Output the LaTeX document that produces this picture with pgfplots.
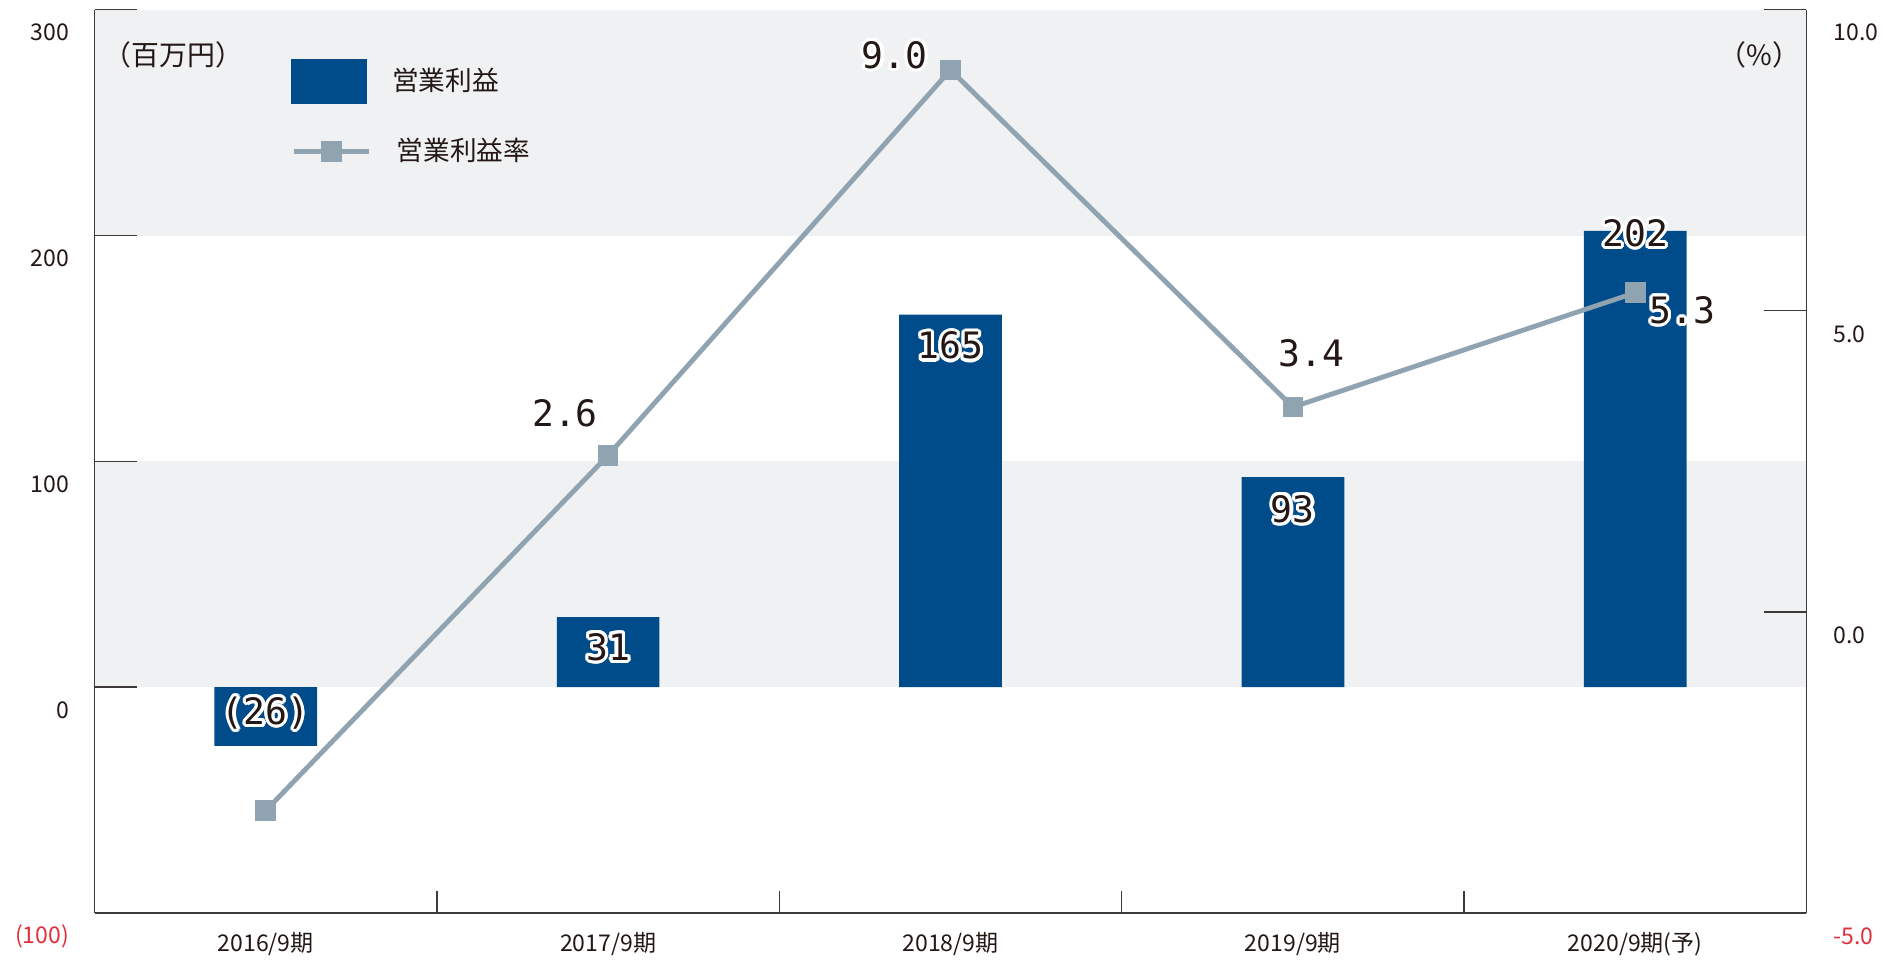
\documentclass[border=0pt]{standalone}
\usepackage{pgfplots}
\pgfplotsset{compat=1.18}
\usepackage{fontspec}
\setmainfont{Noto Sans CJK JP}
\newfontfamily\numfont{DejaVu Sans Mono}
\usepackage{contour}
\contourlength{1.3pt}
\contournumber{16}

\definecolor{barblue}{HTML}{004C8A}
\definecolor{linegray}{HTML}{8FA3B1}
\definecolor{bandgray}{HTML}{F0F1F3}
\definecolor{axisgray}{HTML}{3E3A39}
\definecolor{txt}{HTML}{231815}
\definecolor{negred}{HTML}{E0303C}

% shared frame for both axes
\pgfplotsset{
  base/.style={
    scale only axis, width=706pt, height=372.5pt,
    xmin=-0.5, xmax=4.5,
    tick align=inside, major tick length=17.5pt,
    tick style={axisgray, line width=0.6pt},
    axis line style={-, axisgray, line width=0.6pt},
    tick label style={font=\fontsize{9.5}{11}\selectfont, text=txt},
    clip=false,
  },
  leg/.style={legend style={at={(rel axis cs:0.1147,#1)}, anchor=west, draw=none, fill=none,
    inner sep=0pt, column sep=8.5pt, font=\fontsize{11}{13}\selectfont, text=txt}},
}
\tikzset{lab/.style={font=\numfont\fontsize{15}{15}\selectfont, text=txt}}

\begin{document}
\begin{tikzpicture}
% left axis: operating profit (million yen)
\begin{axis}[base,
  set layers,
  axis x line*=bottom, axis y line*=left,
  ymin=-100, ymax=300,
  ytick={-100,0,100,200,300},
  yticklabels={\textcolor{negred}{(100)},0,100,200,300},
  yticklabel style={anchor=east, xshift=-7pt, yshift=-9.5pt},
  xtick={0,1,2,3,4},
  xticklabels={2016/9期,2017/9期,2018/9期,2019/9期,2020/9期(予)},
  xticklabel style={yshift=-4.5pt},
  major x tick style={draw=none},
  minor xtick={0.5,1.5,2.5,3.5},
  minor tick length=9pt,
  leg=0.9208,
  legend image code/.code={\fill[barblue] (0pt,-9.25pt) rectangle (31pt,9.25pt);},
]
\begin{pgfonlayer}{axis background}
  \fill[bandgray] (axis cs:-0.5,200) rectangle (axis cs:4.5,300);
  \fill[bandgray] (axis cs:-0.5,0) rectangle (axis cs:4.5,100);
\end{pgfonlayer}

\addplot[ybar, bar width=0.3, bar shift=0pt, fill=barblue, draw=none]
  coordinates {(0,-26) (1,31) (2,165) (3,93) (4,202)};
\addlegendentry{営業利益}

\node[lab] at (axis cs:0,-12.3) {\contour{white}{(26)}};
\node[lab] at (axis cs:1,17.1) {\contour{white}{31}};
\node[lab] at (axis cs:2,150.5) {\contour{white}{165}};
\node[lab] at (axis cs:3,78.2) {\contour{white}{93}};
\node[lab] at (axis cs:4,200.3) {\contour{white}{202}};

\node[font=\fontsize{11.5}{13}\selectfont, text=txt] at (rel axis cs:0.046,0.950) {（百万円）};
\end{axis}

% right axis: operating margin (%)
\begin{axis}[base,
  axis x line=none, axis y line*=right,
  ymin=-5, ymax=10,
  ytick={-5,0,5,10},
  yticklabels={\textcolor{negred}{-5.0},0.0,5.0,10.0},
  yticklabel style={anchor=west, xshift=7.7pt, yshift=-9.5pt},
  leg=0.843,
  legend image code/.code={
    \draw[linegray, line width=2pt] (0pt,0pt) -- (31pt,0pt);
    \fill[linegray] (12pt,-3.5pt) rectangle (19pt,3.5pt);},
]
\addplot[linegray, line width=2pt, mark=square*, mark size=3.25pt,
  mark options={fill=linegray, draw=none}]
  coordinates {(0,-3.3) (1,2.6) (2,9.0) (3,3.4) (4,5.3)};
\addlegendentry{営業利益率}

\node[lab] at (axis cs:0.874,3.27) {\contour{white}{2.6}};
\node[lab] at (axis cs:1.837,9.22) {\contour{white}{9.0}};
\node[lab] at (axis cs:3.055,4.26) {\contour{white}{3.4}};
\node[lab] at (axis cs:4.138,4.98) {\contour{white}{5.3}};

\node[font=\fontsize{11.5}{13}\selectfont, text=txt] at (rel axis cs:0.9724,0.950) {（\%）};
\end{axis}
\pgfresetboundingbox
\path[use as bounding box] ([xshift=-39pt,yshift=-19.5pt]current axis.south west)
  rectangle ([xshift=39pt,yshift=4pt]current axis.north east);
\end{tikzpicture}
\end{document}
